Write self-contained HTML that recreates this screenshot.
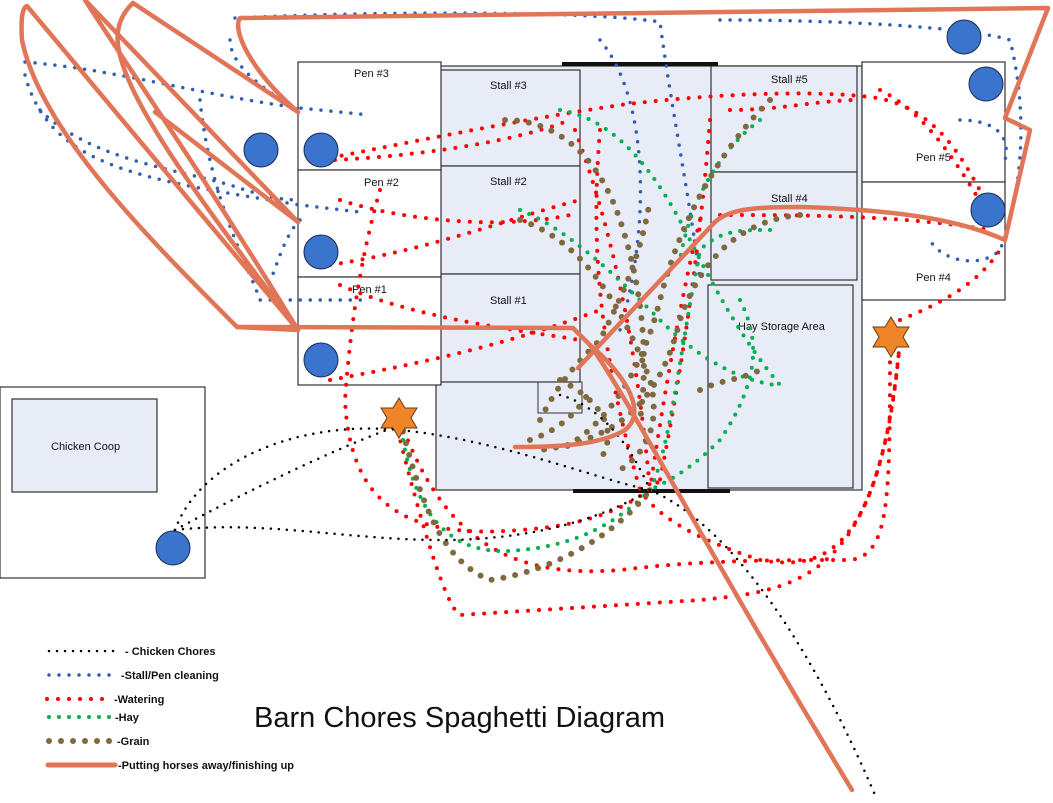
<!DOCTYPE html>
<html><head><meta charset="utf-8"><style>
html,body{margin:0;padding:0;background:#fff;}
svg{display:block;font-family:"Liberation Sans",Arial,sans-serif;}
.b{fill:none;stroke:#2e5fb0;stroke-width:3.5;stroke-linecap:round;stroke-dasharray:0 10;}
.r{fill:none;stroke:#f00;stroke-width:4;stroke-linecap:round;stroke-dasharray:0 11;}
.g{fill:none;stroke:#00b050;stroke-width:4;stroke-linecap:round;stroke-dasharray:0 10;}
.gr{fill:none;stroke:#7f6a3f;stroke-width:6;stroke-linecap:round;stroke-dasharray:0 12;}
.k{fill:none;stroke:#000;stroke-width:2.5;stroke-linecap:round;stroke-dasharray:0 8;}
.o{fill:none;stroke:#e07558;stroke-width:4.5;stroke-linecap:round;stroke-linejoin:round;}
.room{fill:#e8ecf6;stroke:#333;stroke-width:1.2;}
.pen{fill:#fff;stroke:#333;stroke-width:1.2;}
.c{fill:#3a74cc;stroke:#1a2a50;stroke-width:1;}
.t{font-size:11px;fill:#111;}
.lg{font-size:11px;font-weight:bold;fill:#111;}
</style></head><body>
<svg width="1053" height="803" viewBox="0 0 1053 803">
<rect class="room" x="436" y="66" width="426" height="424"/>
<rect class="room" x="437" y="70" width="143" height="96"/>
<rect class="room" x="437" y="166" width="143" height="108"/>
<rect class="room" x="437" y="274" width="143" height="108"/>
<rect class="room" x="711" y="66" width="146" height="106"/>
<rect class="room" x="711" y="172" width="146" height="108"/>
<rect class="room" x="708" y="285" width="145" height="203"/>
<rect fill="none" stroke="#333" x="538" y="382" width="44" height="31"/>
<rect class="pen" x="298" y="62" width="143" height="108"/>
<rect class="pen" x="298" y="170" width="143" height="107"/>
<rect class="pen" x="298" y="277" width="143" height="108"/>
<rect class="pen" x="862" y="62" width="143" height="120"/>
<rect class="pen" x="862" y="182" width="143" height="118"/>
<rect class="pen" x="0" y="387" width="205" height="191"/>
<rect class="room" x="12" y="399" width="145" height="93"/>
<line x1="562" y1="64" x2="718" y2="64" stroke="#111" stroke-width="4"/>
<line x1="573" y1="491" x2="730" y2="491" stroke="#111" stroke-width="4"/>
<text class="t" x="354" y="77">Pen #3</text>
<text class="t" x="364" y="186">Pen #2</text>
<text class="t" x="352" y="293">Pen #1</text>
<text class="t" x="490" y="89">Stall #3</text>
<text class="t" x="490" y="185">Stall #2</text>
<text class="t" x="490" y="304">Stall #1</text>
<text class="t" x="771" y="83">Stall #5</text>
<text class="t" x="771" y="202">Stall #4</text>
<text class="t" x="738" y="330">Hay Storage Area</text>
<text class="t" x="916" y="161">Pen #5</text>
<text class="t" x="916" y="281">Pen #4</text>
<text class="t" x="51" y="450">Chicken Coop</text>

<!-- blue -->
<path class="b" d="M25,62 C120,70 200,95 300,108 L370,115"/>
<path class="b" d="M25,75 C50,170 150,180 300,205 L360,212"/>
<path class="b" d="M40,110 C90,160 180,170 230,185 C260,195 280,200 298,200"/>
<path class="b" d="M200,100 C210,200 250,270 260,300 L365,300"/>
<path class="b" d="M235,18 C400,10 600,12 660,22 C670,100 690,200 700,280"/>
<path class="b" d="M230,40 C230,70 280,100 300,110"/>
<path class="b" d="M600,40 C650,100 650,230 620,330"/>
<path class="b" d="M720,20 C870,20 980,30 1010,40 C1030,120 1020,200 1000,250 C980,270 940,260 930,240"/>
<path class="b" d="M960,120 C1000,120 1010,140 1005,160"/>
<path class="b" d="M300,220 C280,240 275,280 260,300"/>

<!-- red -->
<path class="r" d="M320,160 C420,140 520,120 620,105 C700,95 800,90 860,96 C930,100 960,150 990,210"/>
<path class="r" d="M335,160 C430,155 520,140 570,120"/>
<path class="r" d="M330,265 C430,250 520,215 580,200"/>
<path class="r" d="M340,200 C400,220 500,230 570,215"/>
<path class="r" d="M330,380 C440,360 520,340 600,310"/>
<path class="r" d="M340,285 C420,320 520,330 580,340"/>
<path class="r" d="M380,190 C360,260 350,330 345,400 C350,500 400,540 520,530 C600,525 640,500 660,480"/>
<path class="r" d="M400,420 C440,530 500,580 620,570 C700,560 780,560 850,560 C890,555 890,500 890,340"/>
<path class="r" d="M395,420 C430,560 450,610 460,615 L700,600 C800,590 880,580 900,340"/>
<path class="r" d="M600,130 C590,250 600,350 640,490 C660,520 700,540 760,560 C820,570 880,560 900,340"/>
<path class="r" d="M710,120 C700,250 680,380 660,480"/>
<path class="r" d="M730,110 C780,110 820,100 860,100"/>
<path class="r" d="M720,215 C800,215 900,215 990,230"/>
<path class="r" d="M880,90 C920,110 950,150 985,210"/>
<path class="r" d="M900,320 C950,300 980,280 1000,250"/>
<path class="r" d="M700,220 C680,300 660,420 650,490"/>
<path class="r" d="M575,130 C620,250 640,380 650,490"/>

<!-- green -->
<path class="g" d="M560,110 C620,120 660,180 690,240 C720,300 750,350 780,385"/>
<path class="g" d="M520,210 C570,230 620,280 660,320 C700,360 740,380 775,385"/>
<path class="g" d="M770,230 C740,230 720,230 700,250 C680,350 670,450 650,490"/>
<path class="g" d="M760,120 C720,150 690,200 680,260"/>
<path class="g" d="M400,420 C410,500 440,560 520,550 C580,545 620,520 650,490"/>
<path class="g" d="M740,300 C760,340 760,380 720,440 C690,470 670,480 650,490"/>

<!-- grain -->
<path class="gr" d="M505,120 C560,120 600,160 620,220 C640,280 650,350 640,420"/>
<path class="gr" d="M520,220 C580,240 620,300 650,380 C660,420 650,450 620,470"/>
<path class="gr" d="M770,100 C720,150 680,220 660,300 C640,380 600,430 560,450"/>
<path class="gr" d="M800,215 C740,220 700,260 680,320 C660,400 620,440 540,450"/>
<path class="gr" d="M540,420 C560,380 580,360 600,340 C620,300 640,260 650,200"/>
<path class="gr" d="M400,420 C420,500 440,560 490,580 C560,570 620,530 650,490"/>
<path class="gr" d="M560,380 C600,400 620,430 600,460"/>
<path class="gr" d="M530,440 C560,430 580,410 590,390"/>
<path class="gr" d="M700,390 C720,380 740,380 760,370"/>

<!-- black -->
<path class="k" d="M175,530 C200,460 300,420 400,430 C500,440 600,480 650,490"/>
<path class="k" d="M175,530 C260,520 350,540 440,540 C530,540 600,520 650,490"/>
<path class="k" d="M175,530 C230,500 330,450 400,425"/>
<path class="k" d="M650,490 C720,520 800,620 875,795"/>
<path class="k" d="M560,395 C580,400 620,420 650,490"/>

<!-- orange -->
<path class="o" d="M298,330 L237,327 C150,240 40,130 22,40 Q20,8 27,6 L298,330"/>
<path class="o" d="M85,0 L298,222"/>
<path class="o" d="M85,0 C130,70 200,170 298,330"/>
<path class="o" d="M298,112 L133,3 Q115,20 118,45 C125,100 200,200 298,330"/>
<path class="o" d="M155,112 L298,222"/>
<path class="o" d="M237,327 L573,328 L590,345 C620,370 650,410 625,430 C600,445 560,447 515,447"/>
<path class="o" d="M578,368 L715,222 C730,208 760,207 800,207 C900,210 960,220 1005,240 L1030,130 L1005,118 L1048,8 L240,18 C232,30 250,70 298,112"/>
<path class="o" d="M590,345 C630,400 700,540 852,790"/>

<circle class="c" cx="261" cy="150" r="17"/>
<circle class="c" cx="321" cy="150" r="17"/>
<circle class="c" cx="321" cy="252" r="17"/>
<circle class="c" cx="321" cy="360" r="17"/>
<circle class="c" cx="173" cy="548" r="17"/>
<circle class="c" cx="964" cy="37" r="17"/>
<circle class="c" cx="986" cy="84" r="17"/>
<circle class="c" cx="988" cy="210" r="17"/>
<polygon fill="#ef8428" stroke="#6a3a10" stroke-width="1" points="399,398 405,408 417,408 411,418 417,428 405,428 399,438 393,428 381,428 387,418 381,408 393,408"/>
<polygon fill="#ef8428" stroke="#6a3a10" stroke-width="1" points="891,317 897,327 909,327 903,337 909,347 897,347 891,357 885,347 873,347 879,337 873,327 885,327"/>

<path class="k" d="M49,651 L120,651"/>
<text class="lg" x="125" y="655">- Chicken Chores</text>
<path class="b" d="M49,675 L112,675"/>
<text class="lg" x="121" y="679">-Stall/Pen cleaning</text>
<path class="r" d="M47,699 L109,699"/>
<text class="lg" x="114" y="703">-Watering</text>
<path class="g" d="M49,717 L110,717"/>
<text class="lg" x="115" y="721">-Hay</text>
<path class="gr" d="M49,741 L113,741"/>
<text class="lg" x="117" y="745">-Grain</text>
<line x1="48" y1="765" x2="115" y2="765" stroke="#e07558" stroke-width="5" stroke-linecap="round"/>
<text class="lg" x="118" y="769">-Putting horses away/finishing up</text>
<text x="254" y="727" font-size="29" fill="#111">Barn Chores Spaghetti Diagram</text>
</svg>
</body></html>
